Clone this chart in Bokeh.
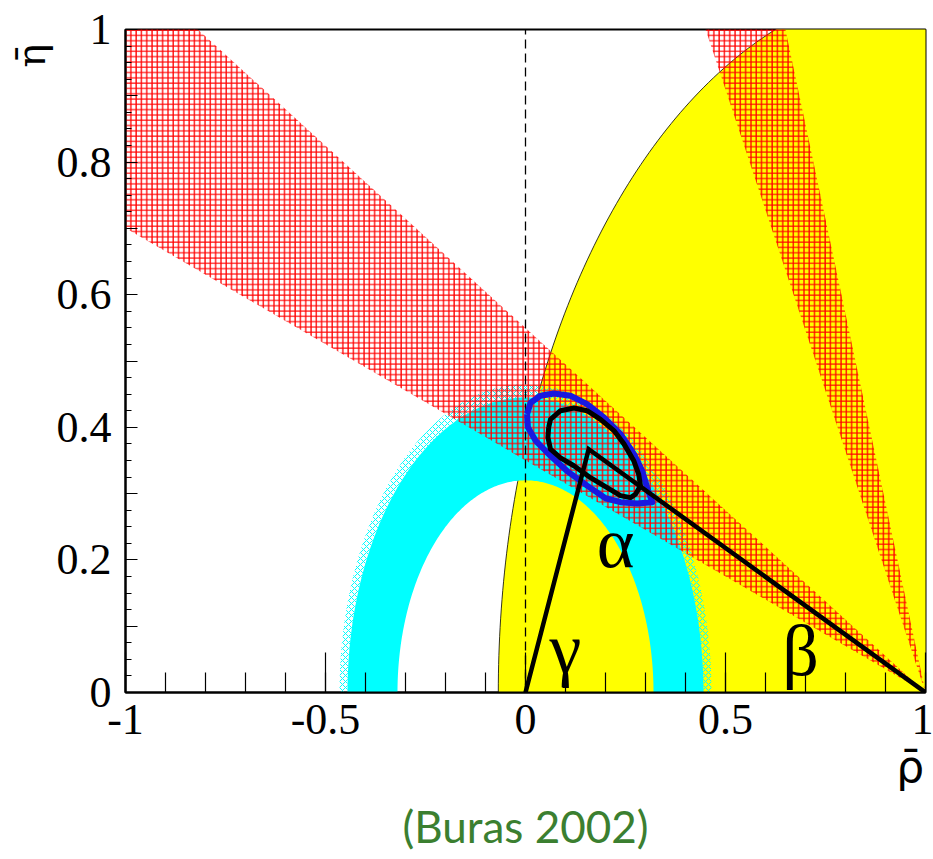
import numpy as np
from bokeh.plotting import figure
from bokeh.models import (Range1d, SingleIntervalTicker, CustomJSTickFormatter,
                          Label, Title)
from bokeh.embed import file_html
from bokeh.resources import INLINE

# apex of the unitarity triangle (rho-bar, eta-bar)
apex_rho = 0.158
apex_eta = 0.367

# sin(2 beta) constraint: angle at (1, 0), both solutions, in degrees
beta_band_deg = [19.3, 28.8]
beta_mirror_deg = [61.2, 70.7]

# |Vub/Vcb| ring around (0, 0): inner, solid outer, hatched edge radii
rb_inner = 0.32
rb_outer = 0.445
rb_edge = 0.465

# |Vtd| constraint: disk around (1, 0)
rt_max = 1.068

# 95% (blue) and 68% (black) fit contours
blue_rho = [0.004, 0.0125, 0.0375, 0.071, 0.1125, 0.154, 0.196, 0.2375, 0.271,
            0.292, 0.304, 0.317, 0.279, 0.2375, 0.2, 0.154, 0.104, 0.0625,
            0.025, 0.006, 0.004]
blue_eta = [0.420, 0.437, 0.4475, 0.451, 0.4475, 0.435, 0.415, 0.390, 0.360,
            0.334, 0.309, 0.287, 0.285, 0.287, 0.293, 0.312, 0.334, 0.357,
            0.380, 0.400, 0.420]
black_rho = [0.058, 0.0625, 0.0875, 0.121, 0.154, 0.1875, 0.221, 0.246, 0.271,
             0.283, 0.2875, 0.275, 0.2625, 0.2375, 0.204, 0.1625, 0.121,
             0.0875, 0.0625, 0.056, 0.058]
black_eta = [0.400, 0.412, 0.425, 0.429, 0.425, 0.412, 0.395, 0.375, 0.349,
             0.329, 0.312, 0.299, 0.294, 0.297, 0.309, 0.324, 0.342, 0.354,
             0.367, 0.385, 0.400]

# angle labels (centre of each letter)
angle_names = ["\u03b1", "\u03b3", "\u03b2"]
angle_rho = [0.225, 0.1, 0.6875]
angle_eta = [0.226, 0.065, 0.062]

YELLOW = "#ffff00"
CYAN = "#00ffff"
RED = "#ff0000"
BLUE = "#1818e0"
GREEN = "#3b7f30"
SERIF = "Liberation Serif"
NBSP = "\u00a0"


def arc(cx, cy, r, a0, a1, n=240):
    t = np.linspace(a0, a1, n)
    return cx + r * np.cos(t), cy + r * np.sin(t)


def wedge(deg_pair, reach=4.0):
    xs, ys = [1.0], [0.0]
    for d in deg_pair:
        a = np.radians(d)
        xs.append(1.0 - reach * np.cos(a))
        ys.append(reach * np.sin(a))
    return xs, ys


p = figure(width=933, height=859, x_range=Range1d(-1, 1), y_range=Range1d(0, 1),
           output_backend="svg", toolbar_location=None,
           min_border_left=125, min_border_right=8,
           min_border_top=29, min_border_bottom=167)
p.grid.visible = False
p.outline_line_color = "black"
p.outline_line_width = 2
p.background_fill_color = "white"
p.border_fill_color = "white"

# |Vtd| disk
yx, yy = arc(1.0, 0.0, rt_max, 0.0, np.pi)
p.patch(yx, yy, fill_color=YELLOW, line_color=None)
p.line(yx, yy, line_color="black", line_width=0.8)

# |Vub/Vcb| ring
ox, oy = arc(0.0, 0.0, rb_outer, 0.0, np.pi)
ix, iy = arc(0.0, 0.0, rb_inner, np.pi, 0.0)
p.patch(np.concatenate([ox, ix]), np.concatenate([oy, iy]),
        fill_color=CYAN, line_color=None)
ex, ey = arc(0.0, 0.0, rb_edge, 0.0, np.pi)
hx, hy = arc(0.0, 0.0, rb_outer, np.pi, 0.0)
p.patch(np.concatenate([ex, hx]), np.concatenate([ey, hy]),
        fill_alpha=0, line_color=None,
        hatch_pattern="x", hatch_color=CYAN, hatch_scale=6, hatch_weight=1)

# sin(2 beta) wedges
for pair in (beta_band_deg, beta_mirror_deg):
    wx, wy = wedge(pair)
    p.patch(wx, wy, fill_alpha=0, line_color=None,
            hatch_pattern="+", hatch_color=RED, hatch_scale=5.3, hatch_weight=1.3)

# rho = 0 guide
p.line([0, 0], [0, 1], line_color="black", line_width=1.3, line_dash="9 5")

# fit contours
p.line(blue_rho, blue_eta, line_color=BLUE, line_width=6, line_join="round")
p.line(black_rho, black_eta, line_color="black", line_width=5, line_join="round")

# triangle sides
p.line([0.0, apex_rho, 1.0], [0.0, apex_eta, 0.0], line_color="black",
       line_width=4.5, line_join="miter")

for name, r, e in zip(angle_names, angle_rho, angle_eta):
    p.add_layout(Label(x=r, y=e, text=name, text_font=SERIF,
                       text_font_size="72px", text_align="center",
                       text_baseline="middle", text_color="black"))

# axes
xa = p.xaxis[0]
xa.ticker = SingleIntervalTicker(interval=0.5, num_minor_ticks=5)
xa.formatter = CustomJSTickFormatter(code="return String(Math.round(tick*10)/10);")
ya = p.yaxis[0]
ya.ticker = SingleIntervalTicker(interval=0.1, num_minor_ticks=4)
ya.formatter = CustomJSTickFormatter(
    code="const v = Math.round(tick*10); return (v % 2 == 0) ? String(v/10) : '';")
for ax in (xa, ya):
    ax.axis_line_width = 2
    ax.axis_line_color = "black"
    ax.major_tick_out = 0
    ax.minor_tick_out = 0
    ax.major_tick_line_width = 1.2
    ax.minor_tick_line_width = 1.2
    ax.major_tick_line_color = "black"
    ax.minor_tick_line_color = "black"
    ax.major_label_text_font = SERIF
    ax.major_label_text_font_size = "44px"
    ax.major_label_text_color = "black"
    ax.axis_label_text_font_style = "normal"
    ax.axis_label_text_color = "black"
xa.major_tick_in = 40
xa.minor_tick_in = 20
xa.major_label_standoff = 12
xa.axis_label_standoff = 4
ya.major_tick_in = 12
ya.minor_tick_in = 6
ya.major_label_standoff = 14
ya.axis_label_standoff = 0

# axis titles: the centred label is padded with leading no-break spaces so
# the symbol itself sits at the far end of its axis
ya.axis_label = NBSP * 48 + "\u03b7\u0304"
ya.axis_label_text_font = "DejaVu Serif"
ya.axis_label_text_font_size = "40px"
xa.axis_label = NBSP * 55 + "\u03c1\u0304"
xa.axis_label_text_font = "DejaVu Sans"
xa.axis_label_text_font_size = "44px"

# reference line under the plot
p.add_layout(Title(text="(Buras 2002)", align="center", text_font="Lato",
                   text_font_size="44px", text_font_style="normal",
                   text_color=GREEN, standoff=7), "below")

open("out.html", "w").write(file_html(p, INLINE))
